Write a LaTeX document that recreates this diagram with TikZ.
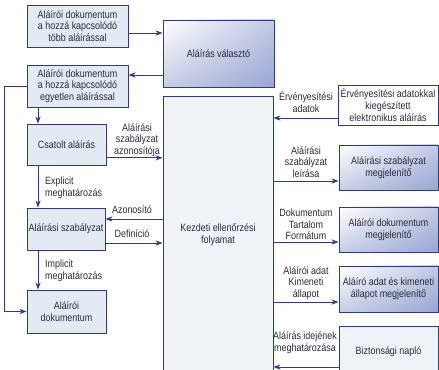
\documentclass[tikz,border=0pt]{standalone}
\usepackage{fontspec}
\setmainfont{Liberation Sans}[FakeStretch=0.85]
\usetikzlibrary{positioning,arrows.meta,shadings}
\definecolor{vonal}{HTML}{2E3A84}
\definecolor{kitoltes}{HTML}{E3EAF3}
\definecolor{halvany}{HTML}{EEF3F8}
\definecolor{atmenet}{HTML}{98A6D2}
\definecolor{szoveg}{HTML}{2A2B3C}

\begin{document}
\begin{tikzpicture}[x=0.03cm, y=-0.03cm,
  doboz/.style={rectangle, draw=vonal, line width=0.8pt, fill=kitoltes, align=center,
                text=szoveg, font=\fontsize{9}{10}\selectfont, inner sep=1pt},
  szinatm/.style={doboz, upper left=white, upper right=atmenet!60, lower left=atmenet!55,
                  lower right=atmenet},
  felirat/.style={align=center, text=szoveg, font=\fontsize{9}{10}\selectfont, inner sep=0pt},
  nyil/.style={draw=vonal, line width=0.8pt, -{Stealth[length=6pt,width=4.5pt]}}
]
\useasboundingbox (0,0) rectangle (439,370);
\clip (0,0) rectangle (439,370);

% bal oldali dokumentumok
\node[doboz, minimum width=3.03cm, minimum height=1.26cm] (tobb) at (77.5,26)
  {Aláírói dokumentum\\a hozzá kapcsolódó\\több aláírással};
\node[doboz, minimum width=3.03cm, minimum height=1.26cm] (egy) at (77.5,86)
  {Aláírói dokumentum\\a hozzá kapcsolódó\\egyetlen aláírással};
\node[doboz, minimum width=2.37cm, minimum height=1.23cm] (csatolt) at (66.5,144.5) {Csatolt aláírás};
\node[doboz, minimum width=2.34cm, minimum height=1.26cm] (szabaly) at (66,229) {Aláírási szabályzat};
\node[doboz, minimum width=2.37cm, minimum height=1.29cm] (dok) at (66.5,311.5) {Aláírói\\dokumentum};

% kozepso folyamatok
\node[szinatm, minimum width=3.33cm, minimum height=2.01cm] (valaszto) at (218.5,53.5) {Aláírás választó};
\node[doboz, fill=halvany, minimum width=3.3cm, minimum height=8.34cm] (kezdeti) at (218,235)
  {Kezdeti ellenőrzési\\folyamat};

% jobb oldali megjelenitok
\node[doboz, fill=white, minimum width=3.0cm, minimum height=1.2cm] (erv) at (388,105)
  {Érvényesítési adatokkal\\kiegészített\\elektronikus aláírás};
\node[szinatm, minimum width=2.97cm, minimum height=1.35cm] (megj1) at (388.5,167.5)
  {Aláírási szabályzat\\megjelenítő};
\node[szinatm, minimum width=2.97cm, minimum height=1.35cm] (megj2) at (388.5,229.5)
  {Aláírói dokumentum\\megjelenítő};
\node[szinatm, minimum width=2.97cm, minimum height=1.38cm] (megj3) at (388.5,289)
  {Aláíró adat és kimeneti\\állapot megjelenítő};
\node[doboz, fill=halvany, minimum width=2.97cm, minimum height=1.56cm] (naplo) at (388.5,352)
  {Biztonsági napló};

% nyilak feliratai
\node[felirat] (lazon) at (137,140) {Aláírási\\szabályzat\\azonosítója};
\node[felirat, anchor=west, align=left] (lexpl) at (45,187.5) {Explicit\\meghatározás};
\node[felirat] (lazonosito) at (132,210) {Azonosító};
\node[felirat] (ldef) at (132,234) {Definíció};
\node[felirat, anchor=west, align=left] (limpl) at (45,270.5) {Implicit\\meghatározás};
\node[felirat] (lerv) at (306,102) {Érvényesítési\\adatok};
\node[felirat] (lleir) at (306,162) {Aláírási\\szabályzat\\leírása};
\node[felirat] (ltart) at (306,224.5) {Dokumentum\\Tartalom\\Formátum};
\node[felirat] (ladat) at (306,283) {Aláírói adat\\Kimeneti\\állapot};
\node[felirat] (lido) at (305,343) {Aláírás idejének\\meghatározása};

% fuggoleges gerinc a bal oldalon
\coordinate (gerinc) at (38,0);

\draw[nyil] ([yshift=-0.21cm]tobb.east) -- ([yshift=-0.21cm]tobb.east -| valaszto.west);
\draw[nyil] ([yshift=0.33cm]egy.east -| valaszto.west) -- ([yshift=0.33cm]egy.east);
\draw[nyil] (egy.west) -- ++(-22,0) |- (dok.west);
\draw[nyil] (gerinc |- egy.south) -- (gerinc |- csatolt.north);
\draw[nyil] (gerinc |- csatolt.south) -- (gerinc |- szabaly.north);
\draw[nyil] (gerinc |- szabaly.south) -- (gerinc |- dok.north);
\draw[nyil] ([yshift=-0.4cm]csatolt.east) -- ([yshift=-0.4cm]csatolt.east -| kezdeti.west);
\draw[nyil] ([yshift=0.3cm]szabaly.east -| kezdeti.west) -- ([yshift=0.3cm]szabaly.east);
\draw[nyil] ([yshift=-0.42cm]szabaly.east) -- ([yshift=-0.42cm]szabaly.east -| kezdeti.west);

\draw[nyil] ([yshift=-0.39cm]erv.west) -- ([yshift=-0.39cm]erv.west -| kezdeti.east);
\draw[nyil] ([yshift=-0.405cm]megj1.west -| kezdeti.east) -- ([yshift=-0.405cm]megj1.west);
\draw[nyil] ([yshift=-0.375cm]megj2.west -| kezdeti.east) -- ([yshift=-0.375cm]megj2.west);
\draw[nyil] ([yshift=-0.39cm]megj3.west -| kezdeti.east) -- ([yshift=-0.39cm]megj3.west);
\draw[nyil] ([yshift=-0.45cm]naplo.west) -- ([yshift=-0.45cm]naplo.west -| kezdeti.east);
\end{tikzpicture}
\end{document}
